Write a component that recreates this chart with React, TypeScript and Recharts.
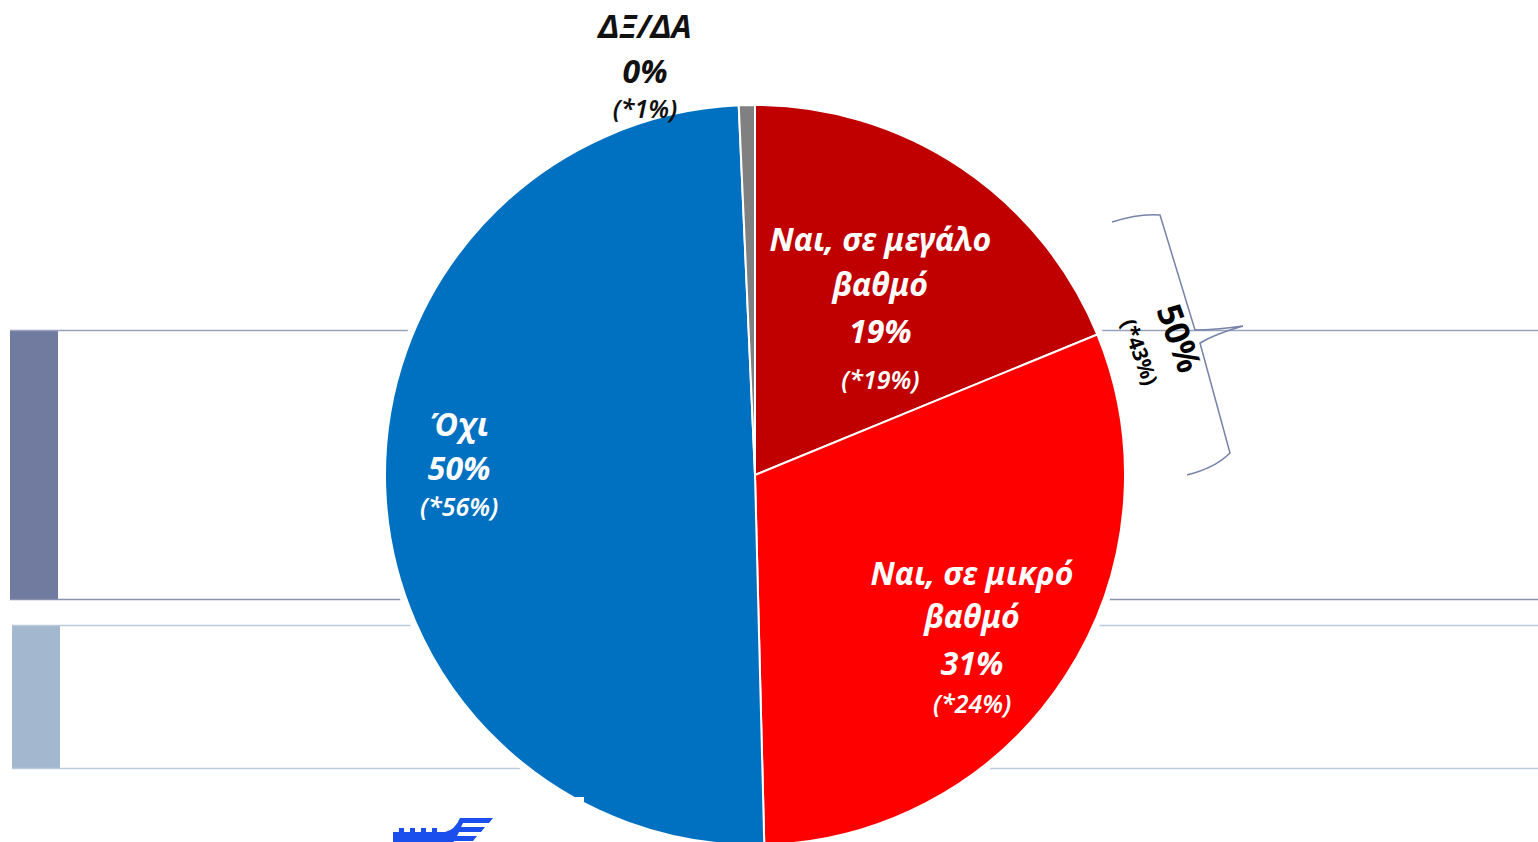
import { PieChart, Pie, Cell } from "recharts";

// slices, clockwise from 12 o'clock
const categories = ["Ναι, σε μεγάλο βαθμό", "Ναι, σε μικρό βαθμό", "Όχι", "ΔΞ/ΔΑ"];
const values = [18.8, 30.8, 49.7, 0.7];
const shownPct = ["19%", "31%", "50%", "0%"];
const previousPct = ["(*19%)", "(*24%)", "(*56%)", "(*1%)"];
const nameLines = [["Ναι, σε μεγάλο", "βαθμό"], ["Ναι, σε μικρό", "βαθμό"], ["Όχι"], ["ΔΞ/ΔΑ"]];
const colors = ["#C00000", "#FF0000", "#0070C0", "#808080"];

const bracketTotal = "50%";
const bracketPrevious = "(*43%)";

const data = categories.map((name, i) => ({ name, value: values[i] }));

// label placement per slice: radius factor, nudge, line offsets
const labelLayout = [
  { rf: 0.56, dx: 10, dy: 6, offs: [-70, -25, 22, 70], color: "#fff" },
  { rf: 0.72, dx: -6, dy: 17, offs: [-65, -22, 25, 65], color: "#fff" },
  { rf: 0.8, dx: 0, dy: -20, offs: [-42, 2, 41], color: "#fff" },
  { rf: 1.1, dx: -101, dy: 0, offs: [-43, 2, 40], color: "#111" },
];

const FONT = "'Noto Sans', 'DejaVu Sans', sans-serif";
const RAD = Math.PI / 180;

function renderLabel(props: any) {
  const { cx, cy, midAngle, outerRadius, index } = props;
  const lay = labelLayout[index];
  const r = outerRadius * lay.rf;
  const x = cx + r * Math.cos(-midAngle * RAD) + lay.dx;
  const y = cy + r * Math.sin(-midAngle * RAD) + lay.dy;
  const lines = [...nameLines[index], shownPct[index], previousPct[index]];
  return (
    <g key={`lbl-${index}`}>
      {lines.map((t, i) => {
        const isPrev = i === lines.length - 1;
        return (
          <text
            key={i}
            x={x}
            y={y + lay.offs[i]}
            textAnchor="middle"
            dominantBaseline="central"
            fill={lay.color}
            fontFamily={FONT}
            fontStyle="italic"
            fontWeight={isPrev ? 600 : 700}
            fontSize={isPrev ? 25 : 32}
          >
            {t}
          </text>
        );
      })}
    </g>
  );
}

export default function App() {
  return (
    <div style={{ position: "absolute", left: 0, top: 0, width: 1538, height: 842, background: "#fff", overflow: "hidden" }}>
      {/* slide template behind the chart */}
      <svg width={1538} height={842} style={{ position: "absolute", left: 0, top: 0 }}>
        <rect x={10} y={330} width={48} height={270} fill="#717A9F" />
        <line x1={10} y1={330.5} x2={1538} y2={330.5} stroke="#9BA2BE" strokeWidth={1.5} />
        <line x1={10} y1={599.5} x2={1538} y2={599.5} stroke="#8A92B0" strokeWidth={1.5} />
        <rect x={12} y={625} width={48} height={143} fill="#A3B8CE" />
        <line x1={12} y1={625.5} x2={1538} y2={625.5} stroke="#BACCDA" strokeWidth={1.5} />
        <line x1={12} y1={768.5} x2={1538} y2={768.5} stroke="#BACCDA" strokeWidth={1.5} />
      </svg>
      <div style={{ position: "absolute", left: 0, top: 0 }}>
        <PieChart width={1538} height={842} margin={{ top: 0, right: 0, bottom: 0, left: 0 }}>
          <circle cx={755} cy={475} r={376} fill="#fff" />
          <Pie
            data={data}
            dataKey="value"
            nameKey="name"
            cx={755}
            cy={475}
            outerRadius={370}
            startAngle={90}
            endAngle={-270}
            stroke="#fff"
            strokeWidth={2}
            label={renderLabel}
            labelLine={false}
            isAnimationActive={false}
          >
            {data.map((d, i) => (
              <Cell key={d.name} fill={colors[i]} />
            ))}
          </Pie>
        </PieChart>
      </div>
      {/* bracket + total, and small artefacts on top */}
      <svg width={1538} height={842} style={{ position: "absolute", left: 0, top: 0 }}>
        <rect x={570} y={797} width={14} height={25} fill="#fff" />
        <path
          d="M1112,222 Q1140,213 1160,215 L1195,330 Q1215,330 1243,326 Q1215,334 1200,343 L1230,453 Q1215,468 1187,475"
          fill="none"
          stroke="#7682A8"
          strokeWidth={1.5}
        />
        <text
          transform="translate(1180,338) rotate(70)"
          textAnchor="middle"
          dominantBaseline="central"
          fontFamily={FONT}
          fontWeight={700}
          fontSize={34}
          fill="#000"
        >
          {bracketTotal}
        </text>
        <text
          transform="translate(1140,352) rotate(70)"
          textAnchor="middle"
          dominantBaseline="central"
          fontFamily={FONT}
          fontWeight={700}
          fontSize={21}
          fill="#000"
        >
          {bracketPrevious}
        </text>
        {/* logo fragment */}
        <g fill="#1A4FEE">
          <path d="M393,832 h6 v-4 h5 v4 h6 v-4 h5 v4 h6 v-4 h5 v4 h6 v-4 h5 v4 h8 Q455,830 460,818 h33 l-4,5 h-26 l-2,4 h24 l-4,5 h-22 l-2,4 h20 l-4,5 h-19 l-2,4 H393 Z" />
        </g>
      </svg>
    </div>
  );
}
